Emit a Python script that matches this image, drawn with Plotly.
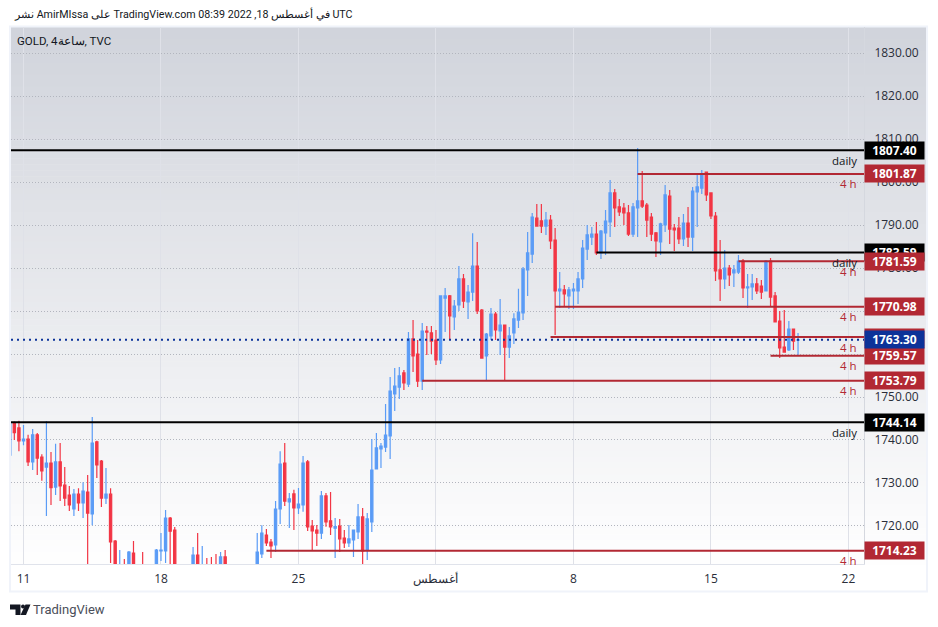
import plotly.graph_objects as go

opens = [1736.5,1743.8,1742.8,1739.8,1740.2,1734.9,1741.2,1736.05,1733.7,1734.65,1729.05,1734.9,1729.5,1727.2,1723.95,1727.4,1725.35,1727.9,1722.8,1739.55,
 1735.1,1726.5,1727.4,1716.5,1704,1708,1706,1713.7,1706,1709,1706,1704,1706,1714.2,1714.2,1721.85,1719.05,1709,1706,1708,
 1706,1713.25,1706,1708,1708,1709,1707,1712.8,1706,1704,1706,1705,1707,1705,1708,1713.5,1717.9,1716.25,1715.6,1723.95,
 1734.65,1725.6,1727.45,1724.2,1724.9,1734.9,1720.0,1719.05,1718.35,1727.0,1721.2,1719.5,1720.0,1717.2,1716.05,1716.75,1718.6,1722.1,1714.4,1720.95,
 1733.25,1737.9,1738.35,1740.95,1750.7,1752.3,1755.6,1753.0,1763.5,1760.0,1753.7,1765.35,1764.9,1763.25,1758.6,1773.0,1773.5,1768.6,1771.4,1777.45,
 1772.1,1774.4,1780.45,1770.2,1759.55,1764.2,1769.3,1765.35,1766.75,1761.6,1764.9,1767.9,1769.55,1779.55,1783.25,1791.6,1790.95,1789.75,1791.15,1786.5,
 1774.65,1774.9,1773.5,1774.65,1774.65,1777.45,1784.4,1787.2,1787.9,1783.5,1788.15,1790.7,1797.45,1794.2,1793.95,1792.8,1787.9,1793.95,1795.6,1794.65,
 1791.85,1788.15,1786.05,1790.0,1796.75,1789.3,1789.3,1786.75,1790.45,1787.2,1797.7,1798.6,1802.3,1797.45,1792.1,1779.55,1777.45,1780.0,1778.85,1779.05,
 1781.6,1775.35,1775.6,1776.3,1775.8,1774.65,1781.6,1773.5,1767.65,1761.6,1760.95,1765.8,1763.2]
highs = [1752.4,1744.3,1744.5,1743.5,1741.2,1742.55,1741.6,1736.7,1744.4,1737.2,1739.1,1739.3,1733.7,1729.3,1728.6,1728.8,1730.2,1731.85,1745.35,1739.8,
 1735.35,1733.5,1728.8,1716.75,1714.4,1712.3,1714.2,1716.5,1710.5,1713.95,1710,1709,1714.65,1718.35,1723.7,1722.1,1719.75,1710.8,1710,1710.5,
 1715.1,1718.35,1715.35,1712.55,1712.8,1713.5,1713.95,1714.4,1710,1708,1709.5,1708,1710,1709,1718.35,1720.2,1719.3,1716.95,1725.8,1737.4,
 1739.3,1727.7,1728.4,1728.85,1736.3,1735.35,1721.4,1720.25,1728.15,1727.7,1727.9,1721.85,1721.65,1719.05,1720.25,1719.05,1725.1,1724.2,1723.0,1740.25,
 1741.65,1739.3,1748.4,1754.65,1756.75,1757.0,1756.3,1765.1,1767.9,1763.25,1767.2,1766.5,1766.5,1765.6,1773.5,1775.35,1773.75,1772.55,1780.45,1778.6,
 1776.05,1788.1,1786.05,1770.45,1764.9,1770.7,1769.75,1772.8,1766.75,1766.3,1769.5,1775.15,1780.25,1788.4,1792.8,1794.9,1794.9,1793.0,1792.35,1789.3,
 1779.05,1776.05,1775.6,1776.5,1779.05,1786.5,1790.0,1789.55,1790.7,1788.85,1793.5,1800.45,1798.35,1796.05,1795.1,1794.65,1795.1,1807.9,1802.55,1795.1,
 1792.8,1788.4,1790.5,1799.3,1798.15,1790.25,1791.85,1792.55,1794.2,1798.85,1801.85,1802.8,1802.3,1797.45,1793.05,1786.5,1784.2,1780.7,1780.7,1783.0,
 1782.1,1778.6,1778.6,1777.7,1777.2,1781.85,1782.3,1774.4,1770.0,1770.25,1767.65,1765.8,1764.9]
lows = [1735.9,1740.0,1737.4,1738.8,1733.95,1733.0,1731.85,1730.5,1722.3,1724.9,1727.2,1725.8,1724.65,1723.5,1722.3,1723.5,1721.85,1705,1720.2,1731.15,
 1724.4,1725.1,1711.4,1706,1702,1703,1704,1703,1703,1703,1702,1701,1704,1711.85,1711.4,1710,1706,1704,1703,1704,
 1703,1704,1704,1703,1703,1704,1704,1704,1703,1701,1703,1702,1704,1702,1705,1712.55,1715.35,1712.55,1713.95,1720.45,
 1724.65,1719.55,1719.05,1722.8,1723.3,1718.85,1714.2,1715.35,1717.0,1719.8,1717.9,1712.55,1713.95,1714.9,1715.1,1712.8,1717.0,1711.15,1712.1,1718.6,
 1733.25,1733.5,1737.2,1735.6,1746.75,1749.55,1751.65,1752.3,1755.8,1752.3,1751.6,1759.75,1760.0,1757.45,1757.65,1765.1,1763.5,1765.6,1770.0,1770.7,
 1768.15,1772.3,1769.3,1759.05,1753.95,1763.25,1763.25,1759.75,1753.7,1759.05,1762.3,1766.05,1767.9,1773.5,1781.15,1789.75,1788.15,1787.7,1784.4,1764.4,
 1770.7,1770.95,1770.45,1770.45,1771.6,1775.35,1781.85,1785.35,1783.0,1782.1,1783.0,1787.2,1789.55,1792.1,1790.0,1787.45,1787.2,1787.2,1793.95,1787.2,
 1786.3,1782.55,1783.0,1788.4,1785.6,1783.95,1785.6,1785.1,1784.9,1783.95,1789.55,1797.2,1795.6,1791.4,1776.95,1772.3,1775.1,1775.8,1775.6,1778.6,
 1773.0,1770.7,1772.55,1773.95,1772.8,1774.65,1771.15,1767.45,1759.05,1760.45,1760.7,1760.95,1759.75]
closes = [1743.9,1741.7,1739.8,1740.2,1734.9,1741.2,1735.8,1732.8,1734.65,1728.9,1734.9,1729.3,1726.5,1724.9,1727.4,1725.35,1728.1,1723.0,1739.3,1734.2,
 1726.5,1727.4,1716.3,1709,1708,1705,1713.95,1706,1708,1706,1704,1707,1714.4,1714.4,1721.85,1718.8,1709,1706,1708,1706,
 1713.25,1707,1710.5,1705,1705,1706,1712.8,1706,1704,1706,1705,1707,1705,1708,1713.95,1718.35,1716.05,1715.35,1723.95,1734.4,
 1725.8,1726.3,1724.2,1725.1,1734.65,1719.8,1718.85,1718.35,1727.0,1720.95,1719.8,1719.85,1717.0,1716.05,1717.0,1719.05,1722.1,1714.2,1721.65,1733.0,
 1738.15,1738.6,1741.15,1751.4,1752.55,1754.9,1753.25,1763.5,1759.55,1753.7,1765.35,1765.1,1763.0,1758.6,1773.5,1773.5,1768.85,1771.15,1777.45,1772.3,
 1774.4,1780.45,1770.0,1759.05,1764.65,1769.3,1765.6,1766.75,1761.6,1764.2,1768.15,1769.75,1779.75,1783.5,1791.85,1789.75,1789.75,1791.15,1786.3,1774.65,
 1775.1,1774.0,1774.9,1775.1,1777.45,1784.65,1787.7,1787.9,1783.5,1788.6,1790.9,1797.45,1793.95,1793.05,1792.8,1787.9,1794.2,1795.6,1794.4,1791.15,
 1787.9,1786.3,1790.25,1797.0,1789.05,1788.85,1786.75,1790.45,1787.2,1797.9,1798.85,1801.85,1797.0,1792.1,1779.3,1777.45,1780.0,1778.4,1779.55,1781.6,
 1775.35,1775.6,1776.3,1774.65,1774.4,1781.6,1773.25,1767.45,1761.4,1760.45,1765.8,1763.0,1763.3]

tick_bars = [3, 33, 63, 93, 123, 153, 183]
tick_labels = ["11", "18", "25", "أغسطس", "8", "15", "22"]
price_ticks = [1720, 1730, 1740, 1750, 1760, 1770, 1780, 1790, 1800, 1810, 1820, 1830]

level_prices = [1807.40, 1801.87, 1783.59, 1781.59, 1770.98, 1763.95, 1759.57, 1753.79, 1744.14, 1714.23]
level_starts = [0, 137, 128, 159, 119, 118, 166, 90, 0, 56]
level_kinds = ["daily", "4 h", "daily", "4 h", "4 h", "4 h", "4 h", "4 h", "daily", "4 h"]
last_price = 1763.30

BLACK, RED, BLUE = "#000000", "#b22833", "#0c3299"
W, H = 938, 627
L, R, T, B = 11, 864, 27, 564
FONT = "Open Sans"
FONT2 = "Roboto"

def px(x): return (x - L) / (R - L)
def py(y): return (B - y) / (B - T)

x_vals = list(range(len(opens)))
x_end = 3 + (R - 23.5) / 4.583
x_start = 3 + (L - 23.5) / 4.583

fig = go.Figure()
fig.add_trace(go.Candlestick(
    x=x_vals, open=opens, high=highs, low=lows, close=closes,
    increasing=dict(line=dict(color="#5b9cf6", width=1.2), fillcolor="#5b9cf6"),
    decreasing=dict(line=dict(color="#f23645", width=1.2), fillcolor="#f23645"),
    whiskerwidth=0, showlegend=False, hoverinfo="skip",
))
for p, s, k in zip(level_prices, level_starts, level_kinds):
    fig.add_trace(go.Scatter(x=[s, x_end], y=[p, p], mode="lines", showlegend=False, hoverinfo="skip",
                             line=dict(color=BLACK if k == "daily" else RED, width=2)))
fig.add_trace(go.Scatter(x=[x_start, x_end], y=[last_price, last_price], mode="lines", showlegend=False,
                         hoverinfo="skip", line=dict(color=BLUE, width=2, dash="2px,4px")))

# background gradient
shapes = []
n = 90
for k in range(n):
    y0 = T + (B - T) * k / n
    y1 = T + (B - T) * (k + 1) / n + 0.5
    f = (k + 0.5) / n
    c = "rgb(%d,%d,%d)" % (209 + 46 * f, 212 + 43 * f, 220 + 35 * f)
    shapes.append(dict(type="rect", xref="paper", yref="paper", x0=px(11), x1=px(926), y0=py(y0), y1=py(y1),
                       fillcolor=c, line_width=0, layer="below"))
# outer frame
shapes.append(dict(type="rect", xref="paper", yref="paper", x0=px(10), x1=px(927), y0=py(26.5), y1=py(591.5),
                   line=dict(color="#f0f3fa", width=2), layer="below"))
# logo
def logo(path_pts):
    return "M " + " L ".join("%.5f %.5f" % (px(a), py(b)) for a, b in path_pts) + " Z"
shapes.append(dict(type="path", xref="paper", yref="paper", fillcolor="#131722", line_width=0,
                   path=logo([(10, 604.5), (20.5, 604.5), (20.5, 615), (15.5, 615), (15.5, 609.5), (10, 609.5)])))
shapes.append(dict(type="circle", xref="paper", yref="paper", fillcolor="#131722", line_width=0,
                   x0=px(21), x1=px(25), y0=py(604.5), y1=py(608.5)))
shapes.append(dict(type="path", xref="paper", yref="paper", fillcolor="#131722", line_width=0,
                   path=logo([(25.5, 604.5), (30.5, 604.5), (26, 615), (20.5, 615)])))

ann = []
def label(p, text, bg):
    ann.append(dict(xref="paper", yref="y", x=1, y=p, xanchor="left", yanchor="middle", showarrow=False,
                    text="<b>%s</b>" % text, width=59, height=17, borderpad=0, align="center", bgcolor=bg,
                    font=dict(family=FONT, size=12, color="#ffffff")))

for p, k in zip(level_prices, level_kinds):
    if p != 1753.79 and p != 1744.14 and p != 1714.23:
        label(p, "%.2f" % p, BLACK if k == "daily" else RED)
label(last_price, "%.2f" % last_price, BLUE)
for p, k in zip(level_prices, level_kinds):
    if p in (1753.79, 1744.14, 1714.23):
        label(p, "%.2f" % p, BLACK if k == "daily" else RED)

for p, k in zip(level_prices, level_kinds):
    ann.append(dict(xref="paper", yref="y", x=px(859), y=p, xanchor="right", yanchor="middle", yshift=-10,
                    showarrow=False, text=k, font=dict(family=FONT, size=11.5, color="#131722" if k == "daily" else RED)))

def txt(x, y, s, size, color="#131722", anchor="left"):
    ann.append(dict(xref="paper", yref="paper", x=px(x), y=py(y), xanchor=anchor, yanchor="middle", showarrow=False,
                    text=s, font=dict(family=FONT2, size=size, color=color)))

txt(12, 14, "نشر AmirMIssa على TradingView.com في أغسطس 18, 2022 08:39 UTC", 10.7, "#131722")
txt(15, 41, "GOLD, 4ساعة, TVC", 11.5, "#131722")
txt(31, 609, "TradingView", 13, "#4a4e59")

fig.update_layout(
    width=W, height=H, margin=dict(l=L, r=W - R, t=T, b=H - B),
    paper_bgcolor="#ffffff", plot_bgcolor="rgba(0,0,0,0)", showlegend=False,
    shapes=shapes, annotations=ann, font=dict(family=FONT, size=12, color="#2a2e39"),
    xaxis=dict(range=[x_start, x_end], tickmode="array", tickvals=tick_bars, ticktext=tick_labels,
               rangeslider=dict(visible=False), showgrid=True, gridcolor="#dfe1e8", gridwidth=1,
               zeroline=False, showline=True, linecolor="#e0e3eb", linewidth=1, ticks="outside",
               ticklen=4, tickcolor="rgba(0,0,0,0)", tickfont=dict(family=FONT, size=12, color="#2a2e39")),
    yaxis=dict(range=[1711.16, 1836.05], side="right", tickmode="array", tickvals=price_ticks,
               ticktext=["%.2f" % v for v in price_ticks], showgrid=True, gridcolor="#b2b5be", griddash="1px,2px",
               gridwidth=1, zeroline=False, showline=True, linecolor="#d5d8df", linewidth=1, ticks="outside",
               ticklen=7, tickcolor="rgba(0,0,0,0)", tickfont=dict(family=FONT, size=12, color="#2a2e39")),
)
fig.write_html("out.html", post_script="document.body.style.margin='0';", config=dict(displayModeBar=False))
